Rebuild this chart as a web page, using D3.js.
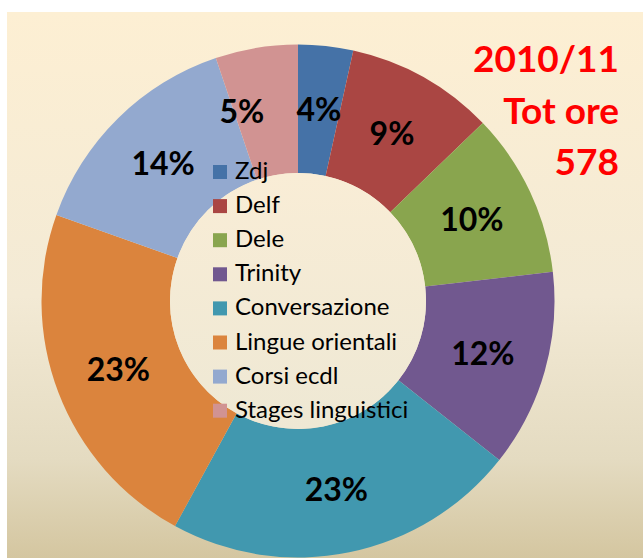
<!DOCTYPE html>
<html>
<head>
<meta charset="utf-8">
<script src="https://cdn.jsdelivr.net/npm/d3@7"></script>
<style>
  html, body { margin: 0; padding: 0; background: #fff; }
  svg { display: block; }
</style>
</head>
<body>
<svg id="chart"></svg>
<script>
// ******************** Data ************************
var categories = ["Zdj", "Delf", "Dele", "Trinity", "Conversazione",
    "Lingue orientali", "Corsi ecdl", "Stages linguistici"];
// hours (total 578)
var hours = [20, 54, 60, 72, 129, 130, 83, 30];
// data labels as printed on the chart
var pctLabels = ["4%", "9%", "10%", "12%", "23%", "23%", "14%", "5%"];
var titleLines = ["2010/11", "Tot ore", "578"];

var colors = ["#4572A7", "#AA4643", "#89A54E", "#71588F", "#4198AF",
    "#DB843D", "#93A9CF", "#D19392"];

// ******************** Layout ************************
var W = 643, H = 558;
var cx = 298, cy = 301;
var outerR = 256.5, innerR = 128;

var svg = d3.select("#chart")
    .attr("width", W)
    .attr("height", H);

var defs = svg.append("defs");

var bg = defs.append("linearGradient")
    .attr("id", "bgGrad")
    .attr("x1", 0).attr("y1", 0).attr("x2", 0).attr("y2", 1);
bg.append("stop").attr("offset", "0%").attr("stop-color", "#FDEFD3");
bg.append("stop").attr("offset", "52%").attr("stop-color", "#F3EAD5");
bg.append("stop").attr("offset", "82%").attr("stop-color", "#E4DBC1");
bg.append("stop").attr("offset", "100%").attr("stop-color", "#D4C6A0");

var hole = defs.append("linearGradient")
    .attr("id", "holeGrad")
    .attr("x1", 0).attr("y1", 0).attr("x2", 0).attr("y2", 1);
hole.append("stop").attr("offset", "0%").attr("stop-color", "#F9EDD6");
hole.append("stop").attr("offset", "100%").attr("stop-color", "#EEE8D4");

// chart area
svg.append("rect")
    .attr("x", 7)
    .attr("y", 12)
    .attr("width", W - 7)
    .attr("height", H - 12)
    .attr("fill", "url(#bgGrad)");

var data = categories.map(function (c, i) {
    return { name: c, value: hours[i], label: pctLabels[i], color: colors[i] };
});

var pie = d3.pie()
    .sort(null)
    .value(function (d) { return d.value; });

var arc = d3.arc()
    .innerRadius(innerR)
    .outerRadius(outerR);

var labelArc = d3.arc()
    .innerRadius((innerR + outerR) / 2)
    .outerRadius((innerR + outerR) / 2);

var g = svg.append("g")
    .attr("transform", "translate(" + cx + "," + cy + ")");

var arcs = pie(data);

g.selectAll("path.slice")
    .data(arcs)
    .enter()
    .append("path")
    .attr("class", "slice")
    .attr("d", arc)
    .attr("fill", function (d) { return d.data.color; });

// donut hole
g.append("circle")
    .attr("r", innerR)
    .attr("fill", "url(#holeGrad)");

// Excel pushes the small "5%" label away from "4%"
var labelShift = { "Stages linguistici": -25 };

g.selectAll("text.pct")
    .data(arcs)
    .enter()
    .append("text")
    .attr("class", "pct")
    .attr("transform", function (d) {
        var p = labelArc.centroid(d);
        return "translate(" + (p[0] + (labelShift[d.data.name] || 0)) + "," + p[1] + ")";
    })
    .attr("text-anchor", "middle")
    .attr("dy", "0.36em")
    .style("font-family", "Lato, 'Open Sans', sans-serif")
    .style("font-weight", "bold")
    .style("font-size", "32px")
    .attr("fill", "#000")
    .text(function (d) { return d.data.label; });

// ******************** Legend ************************
var legend = svg.append("g")
    .attr("transform", "translate(213,165)");

var rowH = 34.1;
var item = legend.selectAll("g.item")
    .data(data)
    .enter()
    .append("g")
    .attr("class", "item")
    .attr("transform", function (d, i) { return "translate(0," + (i * rowH) + ")"; });

item.append("rect")
    .attr("width", 14)
    .attr("height", 14)
    .attr("fill", function (d) { return d.color; });

item.append("text")
    .attr("x", 22)
    .attr("y", 14)
    .style("font-family", "Lato, 'Open Sans', sans-serif")
    .style("font-size", "24px")
    .attr("fill", "#000")
    .text(function (d) { return d.name; });

// ******************** Title ************************
svg.append("g")
    .selectAll("text")
    .data(titleLines)
    .enter()
    .append("text")
    .attr("x", 619)
    .attr("y", function (d, i) { return 72 + i * 51.5; })
    .attr("text-anchor", "end")
    .style("font-family", "Lato, 'Open Sans', sans-serif")
    .style("font-weight", "bold")
    .style("font-size", "37px")
    .attr("fill", "#FF0000")
    .text(function (d) { return d; });
</script>
</body>
</html>
